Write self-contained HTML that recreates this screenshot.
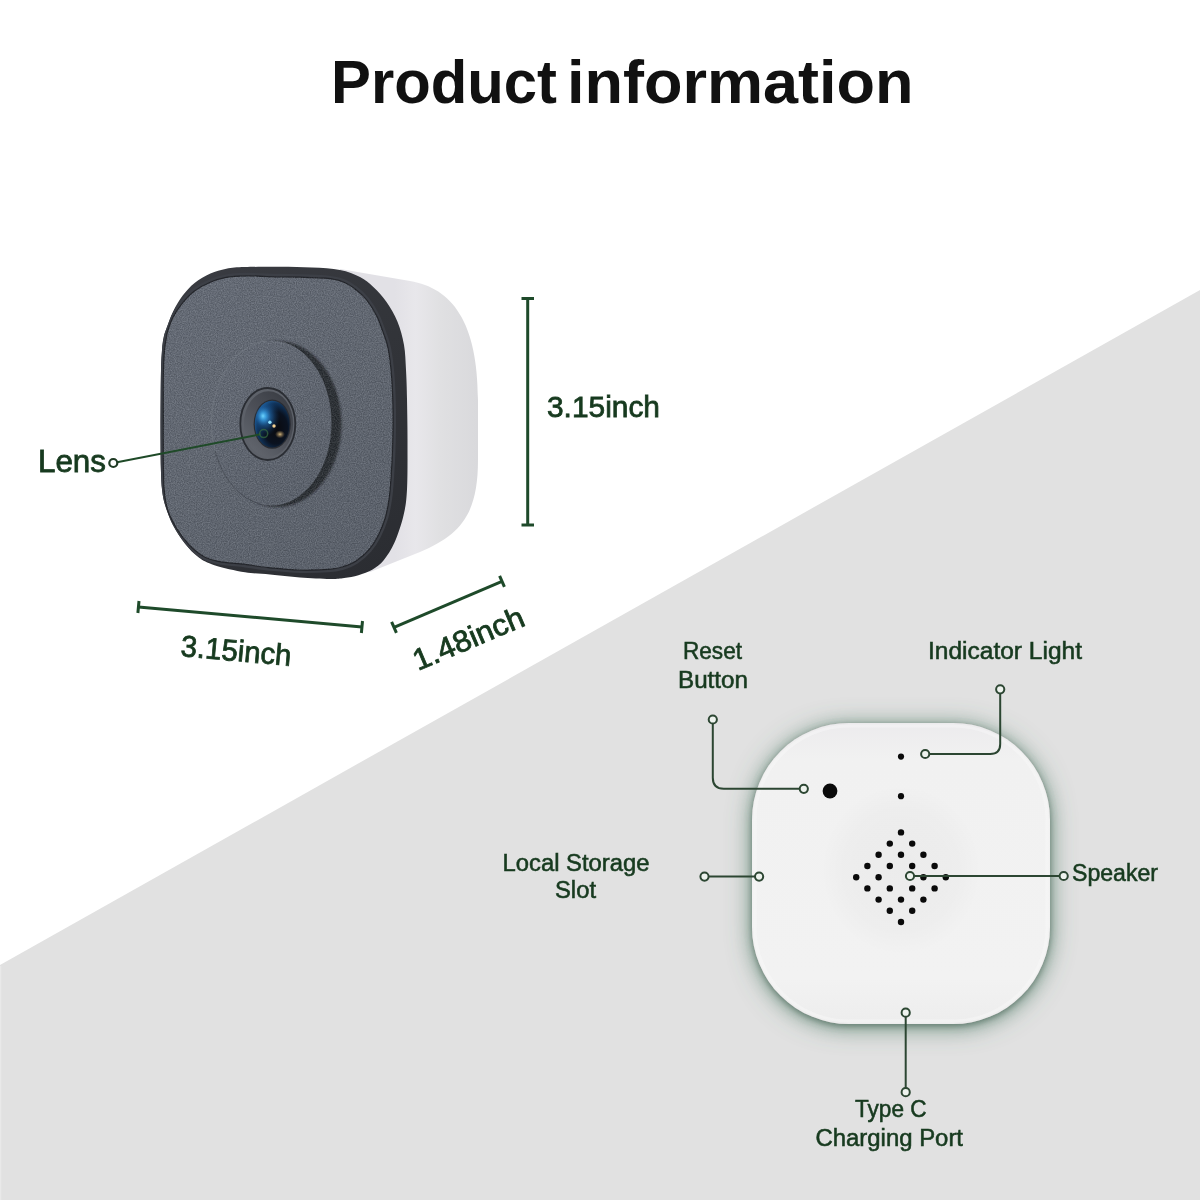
<!DOCTYPE html>
<html><head><meta charset="utf-8">
<style>
html,body{margin:0;padding:0;background:#fff;}
svg{display:block;will-change:transform;}
text{font-family:"Liberation Sans",sans-serif;}
</style></head>
<body>
<svg width="1200" height="1200" viewBox="0 0 1200 1200">
<defs>
  <linearGradient id="sideG" x1="395" y1="0" x2="477" y2="0" gradientUnits="userSpaceOnUse">
    <stop offset="0" stop-color="#e2e1e6"/>
    <stop offset="0.25" stop-color="#e8e7eb"/>
    <stop offset="0.55" stop-color="#e0e0e2"/>
    <stop offset="1" stop-color="#d9d9dc"/>
  </linearGradient>
  <linearGradient id="discG" x1="210" y1="340" x2="340" y2="505" gradientUnits="userSpaceOnUse">
    <stop offset="0" stop-color="#676d78"/>
    <stop offset="1" stop-color="#5b616b"/>
  </linearGradient>
  <linearGradient id="rimG" x1="160" y1="267" x2="406" y2="579" gradientUnits="userSpaceOnUse">
    <stop offset="0" stop-color="#3a3c42"/>
    <stop offset="0.5" stop-color="#323439"/>
    <stop offset="1" stop-color="#2a2c31"/>
  </linearGradient>
  <linearGradient id="faceG" x1="160" y1="270" x2="400" y2="580" gradientUnits="userSpaceOnUse">
    <stop offset="0" stop-color="#686e79"/>
    <stop offset="0.5" stop-color="#626872"/>
    <stop offset="1" stop-color="#5a606a"/>
  </linearGradient>
  <radialGradient id="glassG" cx="0.6" cy="0.58" r="0.62" fx="0.6" fy="0.58">
    <stop offset="0" stop-color="#0a0a0e"/>
    <stop offset="0.55" stop-color="#0a1220"/>
    <stop offset="0.85" stop-color="#10345c"/>
    <stop offset="1" stop-color="#1d5a94"/>
  </radialGradient>
  <radialGradient id="glassBlue" cx="0.3" cy="0.34" r="0.42">
    <stop offset="0" stop-color="#3aa0ea" stop-opacity="0.9"/>
    <stop offset="0.5" stop-color="#1f64a8" stop-opacity="0.55"/>
    <stop offset="1" stop-color="#123a66" stop-opacity="0"/>
  </radialGradient>
  <linearGradient id="barrelG" x1="0.2" y1="0.9" x2="0.8" y2="0.1">
    <stop offset="0" stop-color="#60646c"/>
    <stop offset="0.5" stop-color="#4d5058"/>
    <stop offset="1" stop-color="#3c3f46"/>
  </linearGradient>
  <radialGradient id="hlBlue" cx="0.5" cy="0.5" r="0.5">
    <stop offset="0" stop-color="#6fd6ff" stop-opacity="1"/>
    <stop offset="0.4" stop-color="#3aa0e0" stop-opacity="0.7"/>
    <stop offset="1" stop-color="#1f5f9f" stop-opacity="0"/>
  </radialGradient>
  <radialGradient id="hlOrange" cx="0.5" cy="0.5" r="0.5">
    <stop offset="0" stop-color="#e8c888" stop-opacity="0.9"/>
    <stop offset="1" stop-color="#a08050" stop-opacity="0"/>
  </radialGradient>

  <linearGradient id="devG" x1="0" y1="0" x2="0" y2="1">
    <stop offset="0" stop-color="#ecebed"/>
    <stop offset="0.12" stop-color="#f1f1f1"/>
    <stop offset="0.85" stop-color="#f2f2f2"/>
    <stop offset="1" stop-color="#ededed"/>
  </linearGradient>
  <radialGradient id="spkG" cx="0.5" cy="0.5" r="0.5">
    <stop offset="0" stop-color="#000" stop-opacity="0.025"/>
    <stop offset="0.7" stop-color="#000" stop-opacity="0.018"/>
    <stop offset="1" stop-color="#000" stop-opacity="0"/>
  </radialGradient>
  <clipPath id="rimClip"><path d="M 245.0 267.1 C 253.9 266.8, 268.8 266.7, 280.0 266.8 C 291.2 266.9, 302.0 267.1, 312.0 267.6 C 322.0 268.1, 332.0 268.4, 340.0 270.0 C 348.0 271.6, 354.4 274.2, 360.0 277.0 C 365.6 279.8, 368.9 282.8, 373.3 287.0 C 377.8 291.2, 382.7 296.5, 386.7 302.3 C 390.7 308.1, 394.6 314.6, 397.5 321.7 C 400.4 328.8, 402.6 336.9, 404.0 345.0 C 405.4 353.1, 405.5 361.0, 406.0 370.0 C 406.5 379.0, 406.8 387.3, 407.0 399.0 C 407.2 410.7, 407.5 424.9, 407.5 440.0 C 407.5 455.1, 407.7 477.0, 407.0 489.6 C 406.3 502.2, 405.6 506.7, 403.5 515.5 C 401.4 524.3, 397.8 535.1, 394.5 542.6 C 391.2 550.1, 387.3 555.8, 383.7 560.3 C 380.1 564.8, 376.8 567.0, 372.6 569.5 C 368.4 572.0, 363.1 573.8, 358.4 575.2 C 353.7 576.6, 348.9 577.4, 344.2 578.0 C 339.5 578.6, 337.4 579.1, 330.0 579.0 C 322.6 578.9, 310.0 578.2, 300.0 577.5 C 290.0 576.8, 279.2 575.4, 270.0 574.5 C 260.8 573.6, 254.3 573.8, 245.0 572.3 C 235.7 570.8, 222.2 567.7, 214.4 565.2 C 206.7 562.7, 203.4 560.9, 198.5 557.3 C 193.6 553.7, 189.3 549.1, 185.1 543.8 C 180.9 538.5, 176.5 531.9, 173.2 525.6 C 169.9 519.3, 167.2 511.7, 165.3 505.8 C 163.5 499.9, 162.8 496.0, 162.1 490.0 C 161.4 484.0, 161.2 478.3, 160.9 470.0 C 160.6 461.7, 160.6 451.7, 160.5 440.0 C 160.4 428.3, 160.5 411.7, 160.6 400.0 C 160.7 388.3, 160.8 378.3, 161.0 370.0 C 161.2 361.7, 161.6 355.3, 162.0 350.0 C 162.4 344.7, 162.7 341.8, 163.5 338.0 C 164.3 334.2, 165.3 331.7, 166.9 327.3 C 168.5 322.9, 170.6 316.8, 173.2 311.5 C 175.8 306.2, 179.1 300.4, 182.7 295.6 C 186.3 290.9, 190.0 286.7, 194.6 283.0 C 199.2 279.3, 205.1 275.9, 210.4 273.5 C 215.7 271.1, 220.5 269.8, 226.3 268.7 C 232.1 267.6, 236.1 267.4, 245.0 267.1 Z"/></clipPath>
  <clipPath id="faceClip"><path d="M 245.0 275.8 C 253.1 275.7, 265.8 276.6, 275.0 276.8 C 284.2 277.0, 291.7 277.0, 300.0 277.2 C 308.3 277.4, 318.0 277.5, 325.0 278.2 C 332.0 278.9, 337.0 279.7, 342.0 281.5 C 347.0 283.3, 350.9 285.9, 355.0 289.0 C 359.1 292.1, 363.1 295.5, 366.7 300.0 C 370.3 304.5, 373.9 310.5, 376.7 316.0 C 379.5 321.5, 381.4 327.7, 383.3 333.0 C 385.2 338.3, 386.6 341.0, 388.0 348.0 C 389.4 355.0, 390.7 364.7, 391.5 375.0 C 392.3 385.3, 392.8 397.5, 393.0 410.0 C 393.2 422.5, 392.9 437.5, 392.5 450.0 C 392.1 462.5, 391.1 476.7, 390.5 485.0 C 389.9 493.3, 389.8 494.6, 388.9 500.0 C 388.0 505.4, 387.1 511.8, 385.3 517.7 C 383.5 523.6, 380.9 530.2, 378.2 535.5 C 375.5 540.8, 372.7 545.4, 369.0 549.6 C 365.3 553.9, 360.5 558.1, 356.0 561.0 C 351.5 563.9, 346.7 565.6, 342.0 567.0 C 337.3 568.4, 335.0 568.8, 328.0 569.3 C 321.0 569.8, 309.7 570.2, 300.0 570.0 C 290.3 569.8, 279.2 568.7, 270.0 567.8 C 260.8 566.9, 253.6 565.5, 245.0 564.4 C 236.4 563.3, 225.4 562.8, 218.3 561.3 C 211.2 559.8, 207.5 558.6, 202.5 555.7 C 197.5 552.8, 192.7 548.4, 188.3 543.8 C 184.0 539.2, 179.8 533.7, 176.4 528.0 C 173.0 522.3, 169.7 516.1, 167.7 509.8 C 165.7 503.5, 164.9 497.5, 164.2 490.0 C 163.5 482.5, 163.6 473.3, 163.4 465.0 C 163.2 456.7, 163.3 450.8, 163.3 440.0 C 163.3 429.2, 163.3 411.7, 163.3 400.0 C 163.3 388.3, 163.3 378.3, 163.5 370.0 C 163.7 361.7, 164.1 355.0, 164.5 350.0 C 164.9 345.0, 165.5 343.1, 166.0 340.0 C 166.5 336.9, 166.5 335.1, 167.7 331.3 C 168.9 327.5, 170.7 321.8, 173.2 317.0 C 175.7 312.2, 179.1 307.2, 182.7 302.8 C 186.3 298.4, 190.0 294.3, 194.6 290.9 C 199.2 287.5, 205.1 284.4, 210.4 282.2 C 215.7 279.9, 220.5 278.5, 226.3 277.4 C 232.1 276.3, 236.9 275.9, 245.0 275.8 Z"/></clipPath>
  <filter id="grain" x="0" y="0" width="100%" height="100%" color-interpolation-filters="sRGB">
    <feTurbulence type="fractalNoise" baseFrequency="0.85" numOctaves="2" seed="3" result="n"/>
    <feColorMatrix in="n" type="matrix" values="0 0 0 1.4 -0.35  0 0 0 1.4 -0.33  0 0 0 1.4 -0.3  0 0 0 0 0.16"/>
  </filter>
  <filter id="soft1" x="-10%" y="-10%" width="120%" height="120%"><feGaussianBlur stdDeviation="1.2"/></filter>
  <filter id="devShadow" x="-25%" y="-25%" width="150%" height="150%">
    <feGaussianBlur in="SourceAlpha" stdDeviation="3" result="b1"/>
    <feOffset in="b1" dy="1.5" result="o1"/>
    <feFlood flood-color="#5c776a" flood-opacity="0.85"/>
    <feComposite in2="o1" operator="in" result="s1"/>
    <feGaussianBlur in="SourceAlpha" stdDeviation="12" result="b2"/>
    <feOffset in="b2" dy="3" result="o2"/>
    <feFlood flood-color="#4a7560" flood-opacity="0.8"/>
    <feComposite in2="o2" operator="in" result="s2"/>
    <feMerge><feMergeNode in="s2"/><feMergeNode in="s1"/><feMergeNode in="SourceGraphic"/></feMerge>
  </filter>
</defs>

<!-- background -->
<rect width="1200" height="1200" fill="#ffffff"/>
<polygon points="0,965 1200,290 1200,1200 0,1200" fill="#e1e1e1"/>
<rect x="0" y="966" width="1.2" height="234" fill="#e9e9e9"/>

<!-- title -->
<g font-size="61" font-weight="bold" fill="#111111">
  <text x="331" y="103" textLength="226" lengthAdjust="spacingAndGlyphs">Product</text>
  <text x="567" y="103" textLength="346.5" lengthAdjust="spacingAndGlyphs">information</text>
</g>

<!-- ============ CAMERA ============ -->
<g id="camera">
  <!-- side body -->
  <path d="M 340 269 L 410 281 C 452 288, 478 322, 478 400 L 478 460 C 478 515, 460 535, 420 552 L 370 572 L 340 560 Z" fill="url(#sideG)"/>
  <!-- rim -->
  <path d="M 245.0 267.1 C 253.9 266.8, 268.8 266.7, 280.0 266.8 C 291.2 266.9, 302.0 267.1, 312.0 267.6 C 322.0 268.1, 332.0 268.4, 340.0 270.0 C 348.0 271.6, 354.4 274.2, 360.0 277.0 C 365.6 279.8, 368.9 282.8, 373.3 287.0 C 377.8 291.2, 382.7 296.5, 386.7 302.3 C 390.7 308.1, 394.6 314.6, 397.5 321.7 C 400.4 328.8, 402.6 336.9, 404.0 345.0 C 405.4 353.1, 405.5 361.0, 406.0 370.0 C 406.5 379.0, 406.8 387.3, 407.0 399.0 C 407.2 410.7, 407.5 424.9, 407.5 440.0 C 407.5 455.1, 407.7 477.0, 407.0 489.6 C 406.3 502.2, 405.6 506.7, 403.5 515.5 C 401.4 524.3, 397.8 535.1, 394.5 542.6 C 391.2 550.1, 387.3 555.8, 383.7 560.3 C 380.1 564.8, 376.8 567.0, 372.6 569.5 C 368.4 572.0, 363.1 573.8, 358.4 575.2 C 353.7 576.6, 348.9 577.4, 344.2 578.0 C 339.5 578.6, 337.4 579.1, 330.0 579.0 C 322.6 578.9, 310.0 578.2, 300.0 577.5 C 290.0 576.8, 279.2 575.4, 270.0 574.5 C 260.8 573.6, 254.3 573.8, 245.0 572.3 C 235.7 570.8, 222.2 567.7, 214.4 565.2 C 206.7 562.7, 203.4 560.9, 198.5 557.3 C 193.6 553.7, 189.3 549.1, 185.1 543.8 C 180.9 538.5, 176.5 531.9, 173.2 525.6 C 169.9 519.3, 167.2 511.7, 165.3 505.8 C 163.5 499.9, 162.8 496.0, 162.1 490.0 C 161.4 484.0, 161.2 478.3, 160.9 470.0 C 160.6 461.7, 160.6 451.7, 160.5 440.0 C 160.4 428.3, 160.5 411.7, 160.6 400.0 C 160.7 388.3, 160.8 378.3, 161.0 370.0 C 161.2 361.7, 161.6 355.3, 162.0 350.0 C 162.4 344.7, 162.7 341.8, 163.5 338.0 C 164.3 334.2, 165.3 331.7, 166.9 327.3 C 168.5 322.9, 170.6 316.8, 173.2 311.5 C 175.8 306.2, 179.1 300.4, 182.7 295.6 C 186.3 290.9, 190.0 286.7, 194.6 283.0 C 199.2 279.3, 205.1 275.9, 210.4 273.5 C 215.7 271.1, 220.5 269.8, 226.3 268.7 C 232.1 267.6, 236.1 267.4, 245.0 267.1 Z" fill="url(#rimG)"/>
  <!-- face -->
  <path d="M 245.0 275.8 C 253.1 275.7, 265.8 276.6, 275.0 276.8 C 284.2 277.0, 291.7 277.0, 300.0 277.2 C 308.3 277.4, 318.0 277.5, 325.0 278.2 C 332.0 278.9, 337.0 279.7, 342.0 281.5 C 347.0 283.3, 350.9 285.9, 355.0 289.0 C 359.1 292.1, 363.1 295.5, 366.7 300.0 C 370.3 304.5, 373.9 310.5, 376.7 316.0 C 379.5 321.5, 381.4 327.7, 383.3 333.0 C 385.2 338.3, 386.6 341.0, 388.0 348.0 C 389.4 355.0, 390.7 364.7, 391.5 375.0 C 392.3 385.3, 392.8 397.5, 393.0 410.0 C 393.2 422.5, 392.9 437.5, 392.5 450.0 C 392.1 462.5, 391.1 476.7, 390.5 485.0 C 389.9 493.3, 389.8 494.6, 388.9 500.0 C 388.0 505.4, 387.1 511.8, 385.3 517.7 C 383.5 523.6, 380.9 530.2, 378.2 535.5 C 375.5 540.8, 372.7 545.4, 369.0 549.6 C 365.3 553.9, 360.5 558.1, 356.0 561.0 C 351.5 563.9, 346.7 565.6, 342.0 567.0 C 337.3 568.4, 335.0 568.8, 328.0 569.3 C 321.0 569.8, 309.7 570.2, 300.0 570.0 C 290.3 569.8, 279.2 568.7, 270.0 567.8 C 260.8 566.9, 253.6 565.5, 245.0 564.4 C 236.4 563.3, 225.4 562.8, 218.3 561.3 C 211.2 559.8, 207.5 558.6, 202.5 555.7 C 197.5 552.8, 192.7 548.4, 188.3 543.8 C 184.0 539.2, 179.8 533.7, 176.4 528.0 C 173.0 522.3, 169.7 516.1, 167.7 509.8 C 165.7 503.5, 164.9 497.5, 164.2 490.0 C 163.5 482.5, 163.6 473.3, 163.4 465.0 C 163.2 456.7, 163.3 450.8, 163.3 440.0 C 163.3 429.2, 163.3 411.7, 163.3 400.0 C 163.3 388.3, 163.3 378.3, 163.5 370.0 C 163.7 361.7, 164.1 355.0, 164.5 350.0 C 164.9 345.0, 165.5 343.1, 166.0 340.0 C 166.5 336.9, 166.5 335.1, 167.7 331.3 C 168.9 327.5, 170.7 321.8, 173.2 317.0 C 175.7 312.2, 179.1 307.2, 182.7 302.8 C 186.3 298.4, 190.0 294.3, 194.6 290.9 C 199.2 287.5, 205.1 284.4, 210.4 282.2 C 215.7 279.9, 220.5 278.5, 226.3 277.4 C 232.1 276.3, 236.9 275.9, 245.0 275.8 Z" fill="none" stroke="#3c3f46" stroke-width="6" clip-path="url(#rimClip)"/>
  <path d="M 245.0 275.8 C 253.1 275.7, 265.8 276.6, 275.0 276.8 C 284.2 277.0, 291.7 277.0, 300.0 277.2 C 308.3 277.4, 318.0 277.5, 325.0 278.2 C 332.0 278.9, 337.0 279.7, 342.0 281.5 C 347.0 283.3, 350.9 285.9, 355.0 289.0 C 359.1 292.1, 363.1 295.5, 366.7 300.0 C 370.3 304.5, 373.9 310.5, 376.7 316.0 C 379.5 321.5, 381.4 327.7, 383.3 333.0 C 385.2 338.3, 386.6 341.0, 388.0 348.0 C 389.4 355.0, 390.7 364.7, 391.5 375.0 C 392.3 385.3, 392.8 397.5, 393.0 410.0 C 393.2 422.5, 392.9 437.5, 392.5 450.0 C 392.1 462.5, 391.1 476.7, 390.5 485.0 C 389.9 493.3, 389.8 494.6, 388.9 500.0 C 388.0 505.4, 387.1 511.8, 385.3 517.7 C 383.5 523.6, 380.9 530.2, 378.2 535.5 C 375.5 540.8, 372.7 545.4, 369.0 549.6 C 365.3 553.9, 360.5 558.1, 356.0 561.0 C 351.5 563.9, 346.7 565.6, 342.0 567.0 C 337.3 568.4, 335.0 568.8, 328.0 569.3 C 321.0 569.8, 309.7 570.2, 300.0 570.0 C 290.3 569.8, 279.2 568.7, 270.0 567.8 C 260.8 566.9, 253.6 565.5, 245.0 564.4 C 236.4 563.3, 225.4 562.8, 218.3 561.3 C 211.2 559.8, 207.5 558.6, 202.5 555.7 C 197.5 552.8, 192.7 548.4, 188.3 543.8 C 184.0 539.2, 179.8 533.7, 176.4 528.0 C 173.0 522.3, 169.7 516.1, 167.7 509.8 C 165.7 503.5, 164.9 497.5, 164.2 490.0 C 163.5 482.5, 163.6 473.3, 163.4 465.0 C 163.2 456.7, 163.3 450.8, 163.3 440.0 C 163.3 429.2, 163.3 411.7, 163.3 400.0 C 163.3 388.3, 163.3 378.3, 163.5 370.0 C 163.7 361.7, 164.1 355.0, 164.5 350.0 C 164.9 345.0, 165.5 343.1, 166.0 340.0 C 166.5 336.9, 166.5 335.1, 167.7 331.3 C 168.9 327.5, 170.7 321.8, 173.2 317.0 C 175.7 312.2, 179.1 307.2, 182.7 302.8 C 186.3 298.4, 190.0 294.3, 194.6 290.9 C 199.2 287.5, 205.1 284.4, 210.4 282.2 C 215.7 279.9, 220.5 278.5, 226.3 277.4 C 232.1 276.3, 236.9 275.9, 245.0 275.8 Z" fill="url(#faceG)" stroke="#202227" stroke-width="1.2"/>
  <!-- disc shadow -->
  <ellipse cx="277.5" cy="424" rx="64" ry="83" fill="#27292f" filter="url(#soft1)"/>
  <!-- disc -->
  <ellipse cx="271.5" cy="423" rx="60" ry="82.5" fill="url(#discG)"/>
  <rect x="158" y="265" width="252" height="316" clip-path="url(#faceClip)" filter="url(#grain)"/>
  <path d="M 215.1 451.2 A 60 82.5 0 0 1 266.3 340.8" fill="none" stroke="#7f858f" stroke-width="1" opacity="0.45"/>
  <path d="M 261.1 504.2 A 60 82.5 0 0 1 215.1 451.2" fill="none" stroke="#3a3e45" stroke-width="1" opacity="0.5"/>
  <!-- lens housing -->
  <ellipse cx="267.8" cy="424" rx="27.5" ry="36" fill="#5d6169" stroke="#2a2d33" stroke-width="1.8"/>
  <ellipse cx="268.5" cy="424" rx="24.6" ry="32.8" fill="url(#barrelG)"/>
  <ellipse cx="272.2" cy="424.2" rx="18.6" ry="24.6" fill="#2a2c32"/>
  <ellipse cx="272.2" cy="424.2" rx="17.4" ry="23.4" fill="url(#glassG)"/>
  <ellipse cx="272.2" cy="424.2" rx="17.4" ry="23.4" fill="url(#glassBlue)"/>
  <ellipse cx="263" cy="416" rx="8" ry="10" fill="url(#hlBlue)"/>
  <circle cx="269.9" cy="422.3" r="1.7" fill="#8fe0ff"/>
  <circle cx="274" cy="426" r="1.7" fill="#f5d090"/>
  <ellipse cx="280" cy="434.3" rx="5" ry="4" fill="url(#hlOrange)"/>
</g>

<!-- lens annotation -->
<line x1="117" y1="462.2" x2="260.5" y2="434.3" stroke="#1f4a28" stroke-width="2"/>
<circle cx="113.3" cy="463" r="4" fill="#ffffff" stroke="#1f3a24" stroke-width="2.2"/>
<circle cx="263.7" cy="433.6" r="4" fill="none" stroke="#356a40" stroke-width="1.5" opacity="0.75"/>
<text x="38" y="472" font-size="31" fill="#173a1f" stroke="#173a1f" stroke-width="0.8" textLength="68" lengthAdjust="spacingAndGlyphs">Lens</text>

<!-- vertical dimension -->
<g stroke="#1e4a2a" stroke-width="3" stroke-linecap="butt">
  <line x1="527.7" y1="298.5" x2="527.7" y2="525"/>
  <line x1="521.5" y1="298.5" x2="534" y2="298.5"/>
  <line x1="521.5" y1="525" x2="534" y2="525"/>
</g>
<text x="547" y="416.5" font-size="30" fill="#173a1f" stroke="#173a1f" stroke-width="0.8" textLength="113" lengthAdjust="spacingAndGlyphs">3.15inch</text>

<!-- horizontal dimension (bottom) -->
<g stroke="#1e4a2a" stroke-width="3">
  <line x1="138.4" y1="607" x2="362" y2="627"/>
  <line x1="139" y1="601" x2="137.9" y2="613"/>
  <line x1="362.5" y1="621" x2="361.4" y2="633"/>
</g>
<text x="180" y="656" font-size="30" fill="#173a1f" stroke="#173a1f" stroke-width="0.8" textLength="111" lengthAdjust="spacingAndGlyphs" transform="rotate(5.1 180 656)">3.15inch</text>

<!-- depth dimension -->
<g stroke="#1e4a2a" stroke-width="3">
  <line x1="394" y1="627.3" x2="502" y2="581.3"/>
  <line x1="391.6" y1="621.8" x2="396.4" y2="632.8"/>
  <line x1="499.6" y1="575.8" x2="504.4" y2="586.8"/>
</g>
<text x="418" y="671" font-size="30" fill="#173a1f" stroke="#173a1f" stroke-width="0.8" textLength="118" lengthAdjust="spacingAndGlyphs" transform="rotate(-23 418 671)">1.48inch</text>

<!-- ============ DEVICE BACK ============ -->
<rect x="752" y="723" width="298" height="301" rx="97" ry="97" fill="url(#devG)" filter="url(#devShadow)"/>
<rect x="755" y="726" width="292" height="295" rx="94" ry="94" fill="none" stroke="#f8f8f8" stroke-width="3" opacity="0.45"/>
<ellipse cx="901" cy="870" rx="80" ry="85" fill="url(#spkG)"/>

<!-- dots -->
<g fill="#0a0a0a" id="dots">
  <circle cx="830" cy="791" r="7.4"/>
  <circle cx="901" cy="756.6" r="3.1"/>
  <circle cx="901" cy="796.2" r="3.1"/>
  <circle cx="901.0" cy="832.4" r="3.2"/>
  <circle cx="889.8" cy="843.6" r="3.2"/>
  <circle cx="912.2" cy="843.6" r="3.2"/>
  <circle cx="878.6" cy="854.8" r="3.2"/>
  <circle cx="901.0" cy="854.8" r="3.2"/>
  <circle cx="923.4" cy="854.8" r="3.2"/>
  <circle cx="867.4" cy="866.0" r="3.2"/>
  <circle cx="889.8" cy="866.0" r="3.2"/>
  <circle cx="912.2" cy="866.0" r="3.2"/>
  <circle cx="934.6" cy="866.0" r="3.2"/>
  <circle cx="856.2" cy="877.2" r="3.2"/>
  <circle cx="878.6" cy="877.2" r="3.2"/>
  <circle cx="923.4" cy="877.2" r="3.2"/>
  <circle cx="945.8" cy="877.2" r="3.2"/>
  <circle cx="867.4" cy="888.4" r="3.2"/>
  <circle cx="889.8" cy="888.4" r="3.2"/>
  <circle cx="912.2" cy="888.4" r="3.2"/>
  <circle cx="934.6" cy="888.4" r="3.2"/>
  <circle cx="878.6" cy="899.6" r="3.2"/>
  <circle cx="901.0" cy="899.6" r="3.2"/>
  <circle cx="923.4" cy="899.6" r="3.2"/>
  <circle cx="889.8" cy="910.8" r="3.2"/>
  <circle cx="912.2" cy="910.8" r="3.2"/>
  <circle cx="901.0" cy="922.0" r="3.2"/>

</g>

<!-- annotations on device -->
<g fill="none" stroke="#2c4632" stroke-width="2">
  <path d="M 712.8 724 L 712.8 777.8 Q 712.8 788.8 723.8 788.8 L 799.7 788.8"/>
  <path d="M 1000.2 693.5 L 1000.2 744 Q 1000.2 754 990.2 754 L 929.3 754"/>
  <line x1="708.6" y1="876.6" x2="755" y2="876.6"/>
  <line x1="914" y1="876" x2="1059.6" y2="876"/>
  <line x1="905.7" y1="1016.8" x2="905.7" y2="1088"/>
</g>
<g fill="#eef3ee" stroke="#2c4632" stroke-width="2">
  <circle cx="712.8" cy="719.5" r="4.1"/>
  <circle cx="803.8" cy="788.8" r="4.1"/>
  <circle cx="1000.2" cy="689.3" r="4.1"/>
  <circle cx="925.2" cy="754" r="4.1"/>
  <circle cx="704.5" cy="876.6" r="4.1"/>
  <circle cx="759.1" cy="876.6" r="4.1"/>
  <circle cx="910" cy="876" r="4.1"/>
  <circle cx="1063.7" cy="876" r="4.1"/>
  <circle cx="905.7" cy="1012.7" r="4.1"/>
  <circle cx="905.7" cy="1092.2" r="4.1"/>
</g>

<!-- device labels -->
<g fill="#173a1f" stroke="#173a1f" stroke-width="0.55" font-size="23.5">
  <text x="683" y="658.5" textLength="59" lengthAdjust="spacingAndGlyphs">Reset</text>
  <text x="678" y="687.5" textLength="70" lengthAdjust="spacingAndGlyphs">Button</text>
  <text x="928" y="659.2" textLength="154" lengthAdjust="spacingAndGlyphs">Indicator Light</text>
  <text x="502.5" y="870.8" textLength="147" lengthAdjust="spacingAndGlyphs">Local Storage</text>
  <text x="555" y="898.3" textLength="41" lengthAdjust="spacingAndGlyphs">Slot</text>
  <text x="1072" y="880.8" textLength="86" lengthAdjust="spacingAndGlyphs">Speaker</text>
  <text x="855" y="1117" textLength="71.5" lengthAdjust="spacingAndGlyphs">Type C</text>
  <text x="815.5" y="1146.2" textLength="147.5" lengthAdjust="spacingAndGlyphs">Charging Port</text>
</g>
</svg>
</body></html>
